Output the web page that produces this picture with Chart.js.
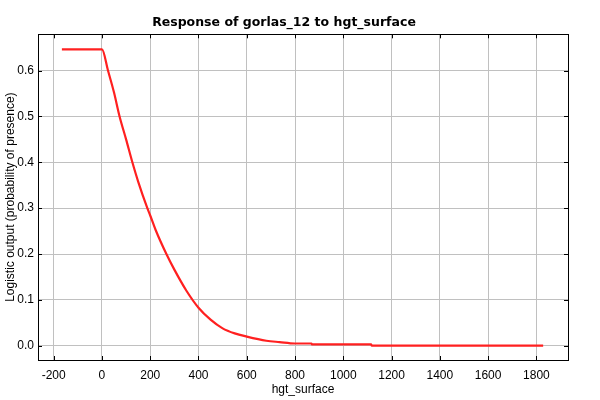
<!DOCTYPE html>
<html>
<head>
<meta charset="utf-8">
<script src="https://cdn.jsdelivr.net/npm/chart.js@4.4.0/dist/chart.umd.min.js"></script>
<style>
  html, body { margin: 0; padding: 0; background: #fff; }
  #wrap { width: 600px; height: 400px; }
</style>
</head>
<body>
<div id="wrap"><canvas id="responseChart" width="600" height="400"></canvas></div>
<script>
// Datos de la curva de respuesta
var hgtValues = [-166, 0, 25, 50, 73, 100, 126, 150, 188, 200, 222, 267, 300, 350, 400, 450, 500, 550, 600, 681, 736, 799, 868, 870, 1115, 1118, 1828];
var logisticOutput = [0.646, 0.646, 0.600, 0.552, 0.500, 0.450, 0.400, 0.358, 0.300, 0.284, 0.253, 0.200, 0.166, 0.120, 0.083, 0.057, 0.038, 0.027, 0.020, 0.011, 0.008, 0.005, 0.005, 0.003, 0.003, 0.0005, 0.0005];

// Marcas de los ejes
var xTicks = [-200, 0, 200, 400, 600, 800, 1000, 1200, 1400, 1600, 1800];
var yTicks = [0.0, 0.1, 0.2, 0.3, 0.4, 0.5, 0.6];

var chartTitle = 'Response of gorlas_12 to hgt_surface';
var xTitle = 'hgt_surface';
var yTitle = 'Logistic output (probability of presence)';

var points = hgtValues.map(function (v, i) {
    return { x: v, y: logisticOutput[i] };
});

// marcas hacia adentro en los cuatro lados + borde negro
var frameTicks = {
    id: 'frameTicks',
    afterDraw: function (chart) {
        var ctx = chart.ctx;
        var a = chart.chartArea;
        var xs = chart.scales.x;
        var ys = chart.scales.y;
        var len = 4;
        ctx.save();
        ctx.strokeStyle = '#000';
        ctx.lineWidth = 1;
        ctx.beginPath();
        xs.ticks.forEach(function (t, i) {
            var px = Math.round(xs.getPixelForTick(i)) + 0.5;
            ctx.moveTo(px, a.bottom); ctx.lineTo(px, a.bottom - len);
            ctx.moveTo(px, a.top); ctx.lineTo(px, a.top + len);
        });
        ys.ticks.forEach(function (t, i) {
            var py = Math.round(ys.getPixelForTick(i)) + 0.5;
            ctx.moveTo(a.left, py); ctx.lineTo(a.left + len, py);
            ctx.moveTo(a.right, py); ctx.lineTo(a.right - len, py);
        });
        ctx.stroke();
        ctx.strokeRect(Math.round(a.left) + 0.5, Math.round(a.top) + 0.5,
            Math.round(a.right - a.left), Math.round(a.bottom - a.top));
        ctx.restore();
    }
};

var font12 = { family: 'Liberation Sans, Arial, sans-serif', size: 12 };

var ctx = document.getElementById('responseChart').getContext('2d');
var responseChart = new Chart(ctx, {
    type: 'line',
    data: {
        datasets: [{
            data: points,
            borderColor: '#ff2020',
            borderWidth: 2.2,
            pointRadius: 0,
            fill: false,
            cubicInterpolationMode: 'monotone'
        }]
    },
    options: {
        responsive: false,
        animation: false,
        layout: { padding: { left: 0, right: 32, top: 0, bottom: 0 } },
        plugins: {
            legend: { display: false },
            tooltip: { enabled: false },
            title: {
                display: true,
                text: chartTitle,
                color: '#000',
                font: { family: 'DejaVu Sans, sans-serif', size: 12.5, weight: 'bold', lineHeight: 1.2 },
                padding: { top: 15, bottom: 4.3 }
            }
        },
        scales: {
            x: {
                type: 'linear',
                min: -265,
                max: 1931,
                afterFit: function (s) { s.height = 40; },
                afterBuildTicks: function (s) {
                    s.ticks = xTicks.map(function (v) { return { value: v }; });
                },
                grid: { color: '#c0c0c0', drawTicks: false },
                border: { display: false },
                ticks: {
                    autoSkip: false,
                    padding: 8,
                    maxRotation: 0,
                    color: '#000',
                    font: font12,
                    callback: function (v) { return String(v); }
                },
                title: {
                    display: true,
                    text: xTitle,
                    color: '#000',
                    font: font12,
                    padding: { top: 0, bottom: 3 }
                }
            },
            y: {
                type: 'linear',
                min: -0.031,
                max: 0.679,
                afterFit: function (s) { s.width = 38; },
                afterBuildTicks: function (s) {
                    s.ticks = yTicks.map(function (v) { return { value: v }; });
                },
                grid: { color: '#c0c0c0', drawTicks: false },
                border: { display: false },
                ticks: {
                    autoSkip: false,
                    padding: 4,
                    color: '#000',
                    font: font12,
                    callback: function (v) { return v.toFixed(1); }
                },
                title: {
                    display: true,
                    text: yTitle,
                    color: '#000',
                    font: font12,
                    padding: { top: 3, bottom: 0 }
                }
            }
        }
    },
    plugins: [frameTicks]
});
</script>
</body>
</html>
